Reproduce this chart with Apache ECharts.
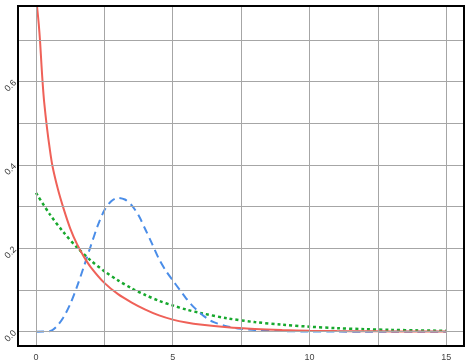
<!DOCTYPE html>
<html>
<head>
<meta charset="utf-8">
<script src="https://cdn.jsdelivr.net/npm/echarts@6/dist/echarts.min.js"></script>
<style>html,body{margin:0;padding:0;background:#fff}#c{width:474px;height:364px}</style>
</head>
<body>
<div id="c"></div>
<script>
// Red solid curve
const redX = [0, 0.05, 0.1, 0.15, 0.2, 0.25, 0.3, 0.4, 0.5, 0.6, 0.8, 1.0, 1.25, 1.5, 1.75, 2.0, 2.5, 3.0, 3.5, 4.0, 4.5, 5.0, 5.5, 6.0, 7.0, 8.0, 9.0, 10.0, 11.0, 12.0, 13.0, 14.0, 15.0];
const redY = [0.80, 0.772, 0.738, 0.695, 0.64, 0.59, 0.55, 0.49, 0.44, 0.398, 0.342, 0.297, 0.248, 0.21, 0.18, 0.155, 0.117, 0.09, 0.07, 0.053, 0.039, 0.029, 0.022, 0.017, 0.0105, 0.0065, 0.004, 0.0025, 0.0015, 0.001, 0.0006, 0.0004, 0.0002];
// Blue dashed curve
const blueX = [0, 0.5, 0.75, 1.0, 1.25, 1.5, 1.75, 2.0, 2.25, 2.5, 2.75, 3.0, 3.25, 3.5, 3.75, 4.0, 4.25, 4.5, 4.75, 5.0, 5.25, 5.5, 5.75, 6.0, 6.25, 6.5, 7.0, 7.5, 8.0, 9.0, 10.0, 11.0, 12.0, 13.0, 14.0, 15.0];
const blueY = [0, 0.001, 0.012, 0.034, 0.066, 0.108, 0.156, 0.205, 0.253, 0.291, 0.313, 0.321, 0.317, 0.303, 0.279, 0.245, 0.21, 0.174, 0.146, 0.123, 0.101, 0.079, 0.06, 0.045, 0.032, 0.023, 0.0125, 0.007, 0.004, 0.0015, 0.0005, 0.0002, 0.0001, 0, 0, 0];
// Green dotted curve
const greenX = [0, 0.5, 1, 1.5, 2, 2.5, 3, 3.5, 4, 4.5, 5, 5.5, 6, 7, 8, 9, 10, 11, 12, 13, 14, 15];
const greenY = [0.333, 0.282, 0.239, 0.202, 0.171, 0.145, 0.123, 0.104, 0.088, 0.074, 0.063, 0.053, 0.045, 0.032, 0.023, 0.017, 0.012, 0.0085, 0.0061, 0.0044, 0.0031, 0.0022];
// Axis ticks / grid positions
const xLabelTicks = [0, 5, 10, 15];
const xGridLines = [0, 2.5, 5, 7.5, 10, 12.5, 15];
const yLabelTicks = [0, 0.2, 0.4, 0.6];
const yGridLines = [0, 0.1, 0.2, 0.3, 0.4, 0.5, 0.6, 0.7];

const zip = (xs, ys) => xs.map((x, i) => [x, ys[i]]);
const gridColor = '#a6a6a6';

const chart = echarts.init(document.getElementById('c'), null, {renderer: 'canvas'});
chart.setOption({
  backgroundColor: '#fff',
  animation: false,
  grid: {left: 18, top: 6, width: 446, height: 340, show: true, borderColor: '#000', borderWidth: 2, backgroundColor: 'transparent', z: 10},
  xAxis: {
    type: 'value', min: -0.658, max: 15.65,
    axisLine: {show: false},
    splitLine: {show: false},
    axisTick: {show: true, customValues: xGridLines, length: 3, lineStyle: {color: gridColor}},
    axisLabel: {customValues: xLabelTicks, color: '#444', fontSize: 9, fontFamily: 'Liberation Sans, Arial', margin: 7, formatter: v => String(v)}
  },
  yAxis: {
    type: 'value', min: -0.0343, max: 0.781,
    axisLine: {show: false},
    splitLine: {show: false},
    axisTick: {show: true, customValues: yGridLines, length: 3, lineStyle: {color: gridColor}},
    axisLabel: {customValues: yLabelTicks, rotate: 45, color: '#333', fontSize: 9, fontFamily: 'Liberation Sans, Arial', margin: 3, formatter: v => v.toFixed(1)}
  },
  series: [
    {
      type: 'line', data: [], silent: true, z: 1,
      markLine: {
        silent: true, symbol: ['none', 'none'], animation: false,
        label: {show: false},
        lineStyle: {color: gridColor, type: 'solid', width: 1},
        data: xGridLines.map(v => ({xAxis: v})).concat(yGridLines.map(v => ({yAxis: v})))
      }
    },
    {
      type: 'line', data: zip(greenX, greenY), showSymbol: false, smooth: 0.3, clip: true, z: 3,
      lineStyle: {color: '#17a82d', width: 2.5, type: [3, 3]}
    },
    {
      type: 'line', data: zip(blueX, blueY), showSymbol: false, smooth: 0.3, clip: true, z: 3,
      lineStyle: {color: '#4a8de8', width: 2, type: [8, 5]}
    },
    {
      type: 'line', data: zip(redX, redY), showSymbol: false, smooth: 0.3, clip: true, z: 4,
      lineStyle: {color: '#ef6158', width: 2}
    }
  ]
});
</script>
</body>
</html>
